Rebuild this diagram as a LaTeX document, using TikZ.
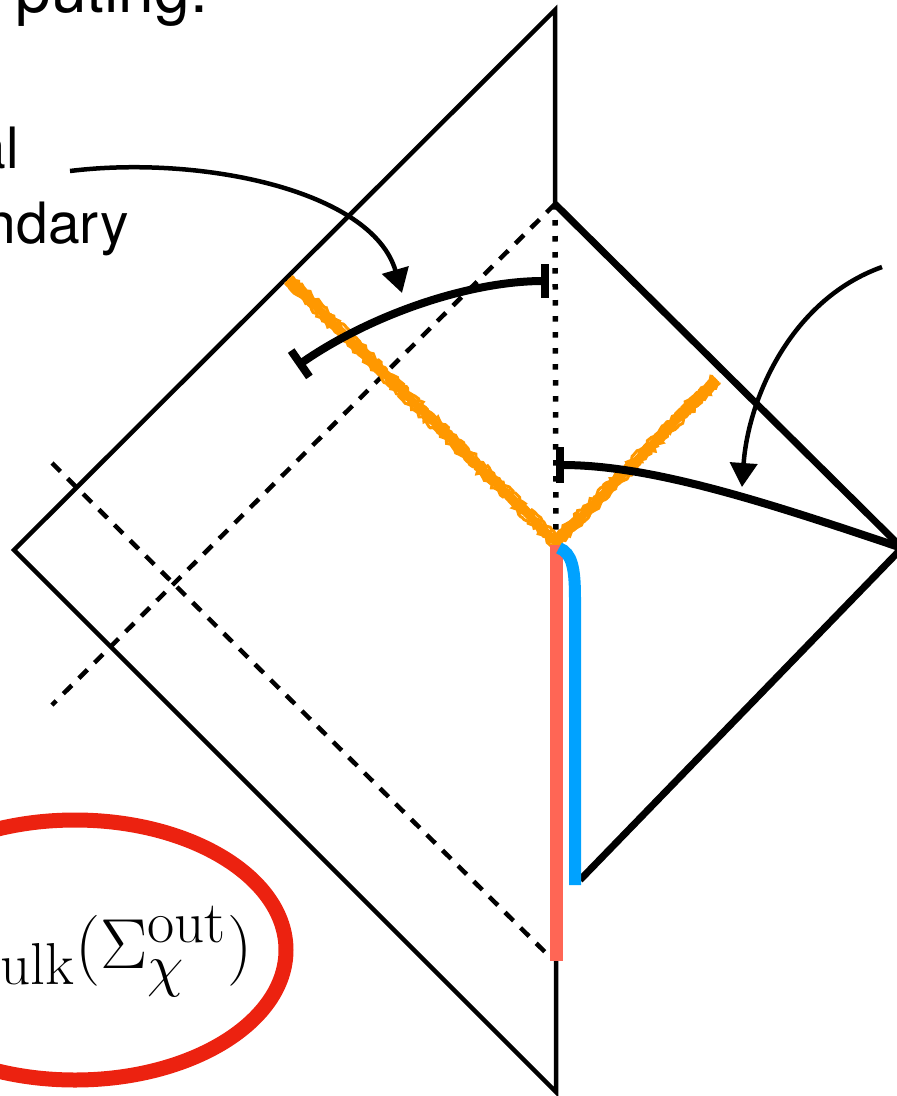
\documentclass[tikz,border=0pt]{standalone}
\usepackage[no-math]{fontspec}
\setmainfont{TeX Gyre Heros}
\usetikzlibrary{arrows.meta,decorations.pathmorphing}
\definecolor{pencil}{RGB}{255,152,0}
\definecolor{salmon}{RGB}{255,102,85}
\definecolor{sky}{RGB}{0,162,255}
\definecolor{ring}{RGB}{236,34,16}
\tikzset{
  thinedge/.style={line width=4.5pt, line join=miter},
  thickedge/.style={line width=7pt, line join=miter},
  dashedge/.style={line width=4.5pt, dash pattern=on 12pt off 10pt},
  dotedge/.style={line width=5.5pt, dash pattern=on 5.5pt off 10.5pt},
  crayon/.style={pencil, line width=3pt, line cap=round,
    decoration={random steps, segment length=3pt, amplitude=1.8pt}, decorate},
  tbar/.style={line width=8pt},
  pointer/.style={line width=4.5pt, -{Triangle[length=24pt,width=27pt]}},
  label/.style={inner sep=0pt, font=\fontsize{57}{68}\selectfont}
}
\begin{document}
\begin{tikzpicture}[x=1pt,y=-1pt]
\useasboundingbox (0,0) rectangle (897,1096);
\clip (0,0) rectangle (897,1096);
\pgfmathsetseed{11}

% corners of the two diamonds
\coordinate (Ltop) at (555,10);
\coordinate (Lleft) at (14,550);
\coordinate (Lbot) at (556,1092);
\coordinate (Rtop) at (555,204);
\coordinate (Rright) at (902,548);
\coordinate (Rbot) at (580,880);
\coordinate (V) at (556,542);
\coordinate (Vbot) at (556,961);
\coordinate (Oleft) at (289,280);
\coordinate (Oright) at (716,380);

% left diamond with its vertical edge
\draw[thinedge] (Rtop) -- (Ltop) -- (Lleft) -- (Lbot) -- (Vbot);
% right diamond
\draw[thickedge] (Rtop) -- (Rright) -- (Rbot);

% null rays
\coordinate (D1) at (52,705);
\coordinate (D2a) at (52,463);
\coordinate (D2b) at (548,955);
\draw[dashedge] (Rtop) -- (D1);
\draw[dashedge] (D2a) -- (D2b);
\draw[dotedge] (Rtop) -- (V);

% crayon strokes
\draw[pencil, line width=8pt] (Oleft) -- (V) -- (Oright);
\foreach \s in {-5,-3,-1,1,3,5} {
  \draw[crayon] ([shift={(\s*0.7,-\s*0.7)}]Oleft) -- ([shift={(\s*0.7,-\s*0.7)}]V);
  \draw[crayon] ([shift={(\s*0.7,\s*0.7)}]V) -- ([shift={(\s*0.7,\s*0.7)}]Oright);
}

% red and blue strips
\draw[salmon, line width=13pt] (556,545) -- (Vbot);
\coordinate (Bstart) at (559,548);
\coordinate (Bend) at (575,885);
\draw[sky, line width=12pt] (Bstart) .. controls (572,553) and (575,568) .. (575,598) -- (Bend);

% bars
\coordinate (T1a) at (549,281);
\coordinate (T1b) at (297,366);
\draw[tbar, {Bar[width=34pt]}-{Bar[width=32pt]}] (T1a) .. controls (470,281) and (372,314) .. (T1b);
\coordinate (T2a) at (556,465);
\draw[tbar, {Bar[width=36pt]}-] (T2a) .. controls (650,465) and (760,500) .. (Rright);

% labels
\node[label, anchor=base east, font=\fontsize{64}{76}\selectfont] (t0) at (208,12) {puting:};
\node[label, anchor=base east] (t1) at (19,168) {al};
\node[label, anchor=base east] (t2) at (129,243) {ndary};

% pointers
\coordinate (P1a) at (70,171);
\coordinate (P1b) at (402,293);
\draw[pointer] (P1a) .. controls (200,155) and (372,190) .. (P1b);
\coordinate (P2a) at (882,267);
\coordinate (P2b) at (742,487);
\draw[pointer] (P2a) .. controls (790,300) and (748,400) .. (P2b);

% entropy term, set at \Huge and enlarged
\begin{scope}[shift={(253,968)}]
  \node[inner sep=0pt, anchor=base east, scale=2.85, transform shape,
        font=\fontsize{24.88}{30}\selectfont] (S) at (0,0)
    {$_{\mathrm{Bulk}}\bigl(\Sigma_\chi^{\mathrm{out}}\bigr)$};
\end{scope}
\draw[ring, line width=15pt] (75,950) ellipse [x radius=211pt, y radius=130pt];
\end{tikzpicture}
\end{document}
